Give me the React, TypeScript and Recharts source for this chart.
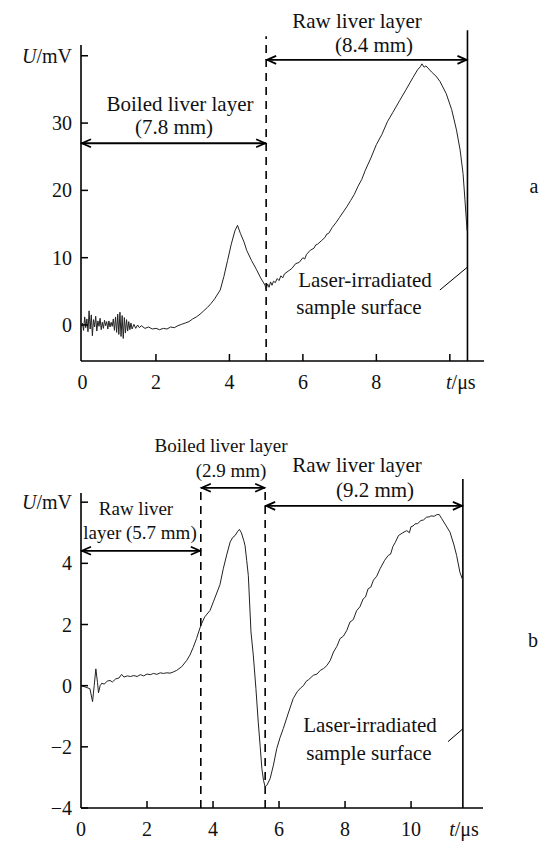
import React from 'react';
import { LineChart, Line, XAxis, YAxis, ReferenceLine } from 'recharts';

// panel a: time (us) and signal (mV)
const timeA = [
  0, 0.03, 0.06, 0.09, 0.12, 0.15, 0.18, 0.21, 0.24, 0.27, 0.3, 0.33, 0.36, 0.39, 0.42, 0.45,
  0.48, 0.51, 0.54, 0.57, 0.6, 0.63, 0.66, 0.69, 0.72, 0.75, 0.78, 0.81, 0.84, 0.87, 0.9, 0.93,
  0.96, 0.99, 1.02, 1.05, 1.08, 1.11, 1.14, 1.17, 1.2, 1.23, 1.26, 1.29, 1.32, 1.35, 1.4, 1.45,
  1.5, 1.55, 1.6, 1.7, 1.8, 1.9, 2.0, 2.1, 2.2, 2.3, 2.4, 2.5, 2.6, 2.7, 2.8, 2.9, 3.0, 3.1,
  3.2, 3.3, 3.4, 3.5, 3.6, 3.75, 3.85, 3.95, 4.05, 4.15, 4.22, 4.3, 4.4, 4.47, 4.6, 4.74, 4.85,
  4.97, 5.0, 5.04, 5.08, 5.12, 5.16, 5.2, 5.25, 5.3, 5.35, 5.4, 5.45, 5.5, 5.6, 5.7, 5.8, 5.9,
  6.0, 6.05, 6.1, 6.2, 6.3, 6.35, 6.4, 6.5, 6.6, 6.65, 6.7, 6.8, 6.9, 7.0, 7.1, 7.2, 7.3, 7.4,
  7.5, 7.6, 7.7, 7.85, 8.0, 8.15, 8.3, 8.45, 8.64, 8.8, 9.0, 9.12, 9.2, 9.24, 9.3, 9.35, 9.5,
  9.62, 9.73, 9.9, 10.05, 10.18, 10.28, 10.36, 10.41, 10.47,
];
const voltA = [
  0.3, -0.8, 1.2, -0.4, 0.9, -1.0, 2.1, -0.6, 1.5, -1.6, 0.8, -0.3, 1.3, -0.9, 0.6, -0.2,
  1.0, -0.7, 0.4, -0.5, 0.7, -0.1, 0.5, -0.6, 0.6, -0.3, 0.4, -0.2, 0.9, -0.8, 1.2, -1.1,
  1.6, -1.4, 1.9, -1.7, 1.4, -2.0, 1.1, -1.2, 0.8, -0.9, 0.5, -0.7, 0.3, -0.6, 0.1, -0.5,
  0.0, -0.4, -0.1, -0.5, -0.3, -0.6, -0.5, -0.7, -0.5, -0.6, -0.3, -0.4, -0.1, 0.1, 0.3, 0.5, 0.9, 1.2,
  1.6, 2.1, 2.6, 3.2, 3.9, 5.2, 7.2, 9.6, 12.0, 14.0, 14.8, 13.6, 12.3, 11.1, 9.6, 8.2, 7.0,
  5.9, 5.3, 6.1, 5.6, 6.4, 5.9, 6.5, 6.3, 6.9, 6.6, 7.3, 7.0, 7.6, 8.0, 8.4, 9.1, 9.3,
  10.0, 9.8, 10.5, 11.1, 11.4, 11.9, 12.0, 12.5, 13.0, 13.5, 13.6, 14.5, 15.2, 16.0, 16.8, 17.6, 18.5, 19.4,
  20.6, 21.6, 23.0, 24.8, 26.8, 28.3, 30.2, 31.6, 33.4, 34.9, 36.8, 37.9, 38.4, 38.8, 38.3, 38.5, 37.6,
  37.0, 36.2, 34.4, 32.0, 29.0, 26.0, 22.5, 18.7, 14.0,
];
const ticksXA = [0, 2, 4, 6, 8, 10];
const ticksYA = [0, 10, 20, 30, 40];

// panel b
const timeB = [
  0, 0.15, 0.27, 0.35, 0.4, 0.45, 0.5, 0.53, 0.58, 0.63, 0.7, 0.8, 0.88, 0.95, 1.05, 1.15,
  1.23, 1.3, 1.4, 1.5, 1.6, 1.7, 1.8, 1.9, 2.0, 2.1, 2.2, 2.3, 2.4, 2.5, 2.6, 2.7, 2.8, 2.9,
  3.05, 3.2, 3.3, 3.4, 3.5, 3.63, 3.75, 3.91, 4.01, 4.21, 4.31, 4.42, 4.52, 4.6, 4.67, 4.75,
  4.8, 4.86, 4.93, 4.97, 5.02, 5.07, 5.15, 5.22, 5.3, 5.37, 5.43, 5.48, 5.53, 5.58, 5.63, 5.73,
  5.83, 5.93, 6.03, 6.13, 6.28, 6.43, 6.55, 6.65, 6.74, 6.82, 6.9, 7.04, 7.15, 7.25, 7.35, 7.45,
  7.55, 7.65, 7.75, 7.85, 7.95, 8.05, 8.15, 8.25, 8.35, 8.45, 8.55, 8.62, 8.7, 8.78, 8.86, 8.96,
  9.06, 9.2, 9.31, 9.38, 9.45, 9.52, 9.62, 9.75, 9.87, 9.95, 10.0, 10.06, 10.12, 10.2, 10.3,
  10.38, 10.47, 10.55, 10.6, 10.7, 10.78, 10.85, 10.93, 11.05, 11.18, 11.3, 11.38, 11.48, 11.57,
];
const voltB = [
  0, -0.05, -0.1, -0.52, 0.0, 0.55, 0.1, -0.23, 0.0, 0.08, 0.05, 0.15, 0.17, 0.12, 0.22, 0.25,
  0.37, 0.28, 0.32, 0.3, 0.33, 0.3, 0.36, 0.32, 0.38, 0.36, 0.4, 0.37, 0.42, 0.4, 0.42, 0.41, 0.45, 0.5,
  0.62, 0.82, 1.0, 1.25, 1.54, 1.97, 2.25, 2.46, 2.74, 3.3, 3.82, 4.3, 4.7, 4.85, 4.91, 5.05,
  5.11, 5.0, 4.75, 4.58, 4.1, 3.6, 1.76, 1.0, -0.1, -1.19, -2.0, -2.71, -3.1, -3.31, -3.26, -3.04,
  -2.6, -2.06, -1.7, -1.4, -0.9, -0.42, -0.2, -0.08, 0.0, 0.14, 0.2, 0.34, 0.38, 0.5, 0.56, 0.66,
  0.82, 1.1, 1.28, 1.54, 1.62, 1.8, 2.08, 2.16, 2.45, 2.58, 2.84, 2.9, 3.17, 3.22, 3.45, 3.58,
  3.82, 4.1, 4.26, 4.3, 4.55, 4.68, 4.91, 5.0, 5.07, 5.0, 5.2, 5.22, 5.29, 5.3, 5.4,
  5.42, 5.51, 5.52, 5.55, 5.54, 5.59, 5.6, 5.46, 5.25, 5.02, 4.6, 4.26, 3.71, 3.44,
];
const ticksXB = [0, 2, 4, 6, 8, 10, 12];
const ticksYB = [-4, -2, 0, 2, 4, 6];

const dataA = timeA.map((t, i) => ({ t, u: voltA[i] }));
const dataB = timeB.map((t, i) => ({ t, u: voltB[i] }));

const FONT = "'Liberation Serif', 'DejaVu Serif', 'Times New Roman', serif";
const INK = '#111';

function makeXTick(unitAt: number, shift: number, withMark: boolean) {
  return (props: any) => {
    const { x, y, payload } = props;
    const v = payload.value;
    const isUnit = v === unitAt;
    return (
      <g>
        {(!isUnit || withMark) && v !== 0 && (
          <line x1={x} x2={x} y1={y} y2={y - 7} stroke="#000" strokeWidth={1.5} />
        )}
        {isUnit ? (
          <text x={x + shift} y={y + 28} textAnchor="middle" style={{ fontFamily: FONT }} fontSize={20} fill={INK}>
            <tspan fontStyle="italic">t</tspan>
            <tspan>/μs</tspan>
          </text>
        ) : (
          <text x={x} y={y + 28} textAnchor="middle" style={{ fontFamily: FONT }} fontSize={20} fill={INK}>
            {v}
          </text>
        )}
      </g>
    );
  };
}

function makeYTick(unitAt: number) {
  return (props: any) => {
    const { x, y, payload } = props;
    const v = payload.value;
    const label = v < 0 ? '\u2212' + Math.abs(v) : String(v);
    return (
      <g>
        <line x1={x} x2={x + 7} y1={y} y2={y} stroke="#000" strokeWidth={1.5} />
        {v === unitAt ? (
          <text x={x - 9} y={y + 7} textAnchor="end" style={{ fontFamily: FONT }} fontSize={20} fill={INK}>
            <tspan fontStyle="italic">U</tspan>
            <tspan>/mV</tspan>
          </text>
        ) : (
          <text x={x - 9} y={y + 7} textAnchor="end" style={{ fontFamily: FONT }} fontSize={20} fill={INK}>
            {label}
          </text>
        )}
      </g>
    );
  };
}

// double headed arrow drawn between the segment ends
const Arrow = (p: any) => {
  const { x1, y1, x2 } = p;
  const y = y1;
  return (
    <g stroke="#000" strokeWidth={1.8} fill="none">
      <line x1={x1} y1={y} x2={x2} y2={y} />
      <polyline points={`${x1 + 10},${y - 4} ${x1 + 1},${y} ${x1 + 10},${y + 4}`} />
      <polyline points={`${x2 - 10},${y - 4} ${x2 - 1},${y} ${x2 - 10},${y + 4}`} />
    </g>
  );
};

const Txt = ({ x, y, size = 21, children }: any) => (
  <text x={x} y={y} textAnchor="middle" style={{ fontFamily: FONT }} fontSize={size} fill={INK}>
    {children}
  </text>
);

export default function App() {
  return (
    <div style={{ position: 'absolute', left: 0, top: 0, width: 548, height: 842, background: '#fff', fontFamily: FONT }}>
      <div style={{ position: 'absolute', left: 0, top: 0 }}>
        <LineChart width={548} height={400} data={dataA} margin={{ top: 45, right: 64, bottom: 0, left: 0 }}>
          <XAxis
            dataKey="t"
            type="number"
            domain={[-0.04, 10.93]}
            ticks={ticksXA}
            allowDataOverflow
            height={39}
            tickSize={0}
            tickMargin={0}
            tickLine={false}
            axisLine={{ stroke: '#000', strokeWidth: 1.6 }}
            tick={makeXTick(10, 11, true)}
          />
          <YAxis
            type="number"
            domain={[-5.35, 41.6]}
            ticks={ticksYA}
            allowDataOverflow
            width={81}
            tickSize={0}
            tickMargin={0}
            tickLine={false}
            axisLine={{ stroke: '#000', strokeWidth: 1.6 }}
            tick={makeYTick(40)}
          />
          <ReferenceLine
            segment={[{ x: 5, y: -5.35 }, { x: 5, y: 42.9 }]}
            stroke="#000"
            strokeWidth={1.6}
            strokeDasharray="8 6"
            ifOverflow="visible"
          />
          <ReferenceLine
            segment={[{ x: 10.48, y: -5.35 }, { x: 10.48, y: 43.8 }]}
            stroke="#000"
            strokeWidth={1.6}
            ifOverflow="visible"
          />
          <ReferenceLine segment={[{ x: -0.04, y: 27 }, { x: 5, y: 27 }]} shape={Arrow} ifOverflow="visible" />
          <ReferenceLine segment={[{ x: 5, y: 39.4 }, { x: 10.48, y: 39.4 }]} shape={Arrow} ifOverflow="visible" />
          <ReferenceLine
            segment={[{ x: 9.73, y: 5.2 }, { x: 10.48, y: 8.6 }]}
            stroke="#000"
            strokeWidth={1}
            ifOverflow="visible"
          />
          <Line dataKey="u" type="linear" stroke="#222" strokeWidth={1} dot={false} isAnimationActive={false} />
        </LineChart>
      </div>
      <div style={{ position: 'absolute', left: 0, top: 400 }}>
        <LineChart width={548} height={442} data={dataB} margin={{ top: 93, right: 65, bottom: 0, left: 0 }}>
          <XAxis
            dataKey="t"
            type="number"
            domain={[0, 12.18]}
            ticks={ticksXB}
            allowDataOverflow
            height={34}
            tickSize={0}
            tickMargin={0}
            tickLine={false}
            axisLine={{ stroke: '#000', strokeWidth: 1.6 }}
            tick={makeXTick(12, -13, false)}
          />
          <YAxis
            type="number"
            domain={[-4, 6.3]}
            ticks={ticksYB}
            allowDataOverflow
            width={81}
            tickSize={0}
            tickMargin={0}
            tickLine={false}
            axisLine={{ stroke: '#000', strokeWidth: 1.6 }}
            tick={makeYTick(6)}
          />
          <ReferenceLine
            segment={[{ x: 3.63, y: -4 }, { x: 3.63, y: 6.47 }]}
            stroke="#000"
            strokeWidth={1.6}
            strokeDasharray="8 6"
            ifOverflow="visible"
          />
          <ReferenceLine
            segment={[{ x: 5.58, y: -4 }, { x: 5.58, y: 6.47 }]}
            stroke="#000"
            strokeWidth={1.6}
            strokeDasharray="8 6"
            ifOverflow="visible"
          />
          <ReferenceLine
            segment={[{ x: 11.57, y: -4 }, { x: 11.57, y: 6.76 }]}
            stroke="#000"
            strokeWidth={1.6}
            ifOverflow="visible"
          />
          <ReferenceLine segment={[{ x: 0, y: 4.41 }, { x: 3.63, y: 4.41 }]} shape={Arrow} ifOverflow="visible" />
          <ReferenceLine segment={[{ x: 3.63, y: 6.47 }, { x: 5.58, y: 6.47 }]} shape={Arrow} ifOverflow="visible" />
          <ReferenceLine segment={[{ x: 5.58, y: 5.88 }, { x: 11.57, y: 5.88 }]} shape={Arrow} ifOverflow="visible" />
          <ReferenceLine
            segment={[{ x: 11.12, y: -1.83 }, { x: 11.57, y: -1.41 }]}
            stroke="#000"
            strokeWidth={1}
            ifOverflow="visible"
          />
          <Line dataKey="u" type="linear" stroke="#222" strokeWidth={1} dot={false} isAnimationActive={false} />
        </LineChart>
      </div>
      <svg width={548} height={842} style={{ position: 'absolute', left: 0, top: 0, pointerEvents: 'none' }}>
        <Txt x={180} y={111}>Boiled liver layer</Txt>
        <Txt x={174} y={134}>(7.8 mm)</Txt>
        <Txt x={357} y={28}>Raw liver layer</Txt>
        <Txt x={374} y={52}>(8.4 mm)</Txt>
        <Txt x={365} y={287}>Laser-irradiated</Txt>
        <Txt x={359} y={314}>sample surface</Txt>
        <Txt x={534} y={193} size={20}>a</Txt>

        <Txt x={221} y={452} size={19}>Boiled liver layer</Txt>
        <Txt x={231} y={477} size={19}>(2.9 mm)</Txt>
        <Txt x={357} y={472}>Raw liver layer</Txt>
        <Txt x={375} y={497}>(9.2 mm)</Txt>
        <Txt x={136} y={515} size={19}>Raw liver</Txt>
        <Txt x={140} y={539} size={19}>layer (5.7 mm)</Txt>
        <Txt x={370} y={732}>Laser-irradiated</Txt>
        <Txt x={369} y={760}>sample surface</Txt>
        <Txt x={533} y={647} size={20}>b</Txt>
      </svg>
    </div>
  );
}
